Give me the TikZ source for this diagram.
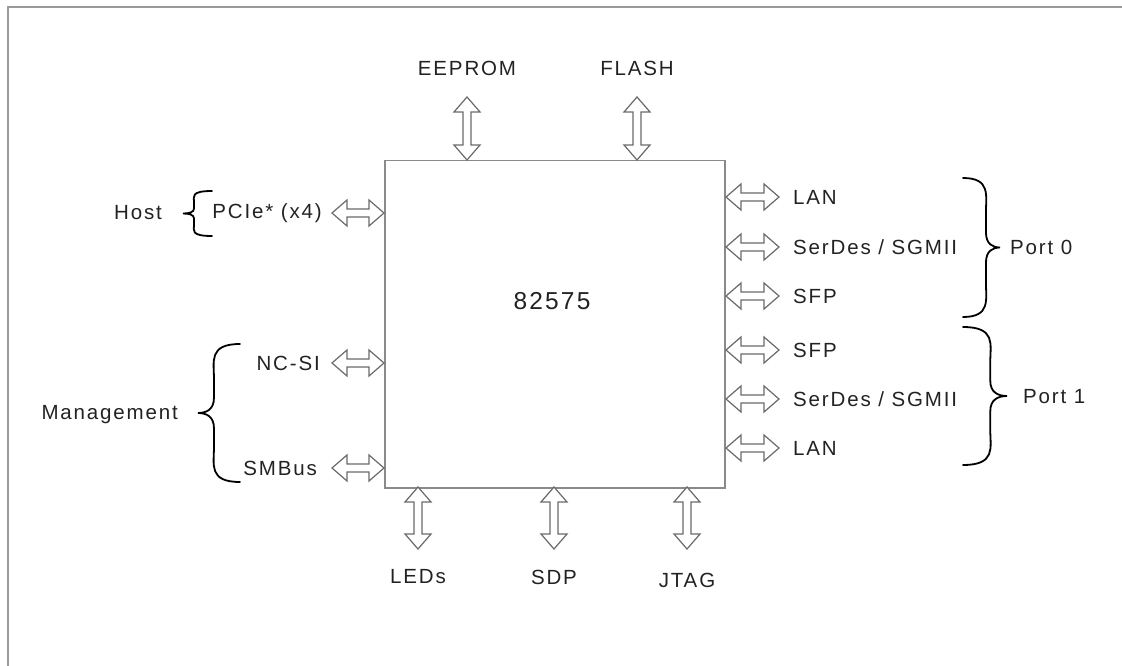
\documentclass[tikz,border=0pt]{standalone}
\usepackage{fontspec}
\setmainfont{Liberation Sans}[LetterSpace=9]
\definecolor{framegray}{HTML}{9A9A9A}
\definecolor{boxgray}{HTML}{8A8A8A}
\definecolor{arrgray}{HTML}{6A6A6A}
\definecolor{txt}{HTML}{222222}
\tikzset{
  lbl/.style={font=\fontsize{20.5}{22}\selectfont, text=txt, inner sep=0pt},
  arrowline/.style={draw=arrgray, line width=1.2pt, fill=white, line join=miter},
  bracestyle/.style={draw=black, line width=1.8pt, line cap=round},
  harrow/.pic={\path[arrowline] (0,0) -- (15,-13) -- (15,-4) -- (#1-15,-4) -- (#1-15,-13) -- (#1,0) -- (#1-15,13) -- (#1-15,4) -- (15,4) -- (15,13) -- cycle;},
  varrow/.pic={\path[arrowline] (0,0) -- (-13,15) -- (-4,15) -- (-4,#1-15) -- (-13,#1-15) -- (0,#1) -- (13,#1-15) -- (4,#1-15) -- (4,15) -- (13,15) -- cycle;},
}
\newcommand{\bracepath}{(0,0) .. controls (0.75,0) and (0.62,0.25) .. (0.62,0.5) -- (0.62,0.78) .. controls (0.62,0.95) and (0.8,1) .. (1,1) .. controls (0.8,1) and (0.62,1.05) .. (0.62,1.22) -- (0.62,1.5) .. controls (0.62,1.75) and (0.75,2) .. (0,2)}
\begin{document}
\begin{tikzpicture}[x=1pt,y=-1pt]
\useasboundingbox (0,0) rectangle (1122,666);
% outer frame (top and left only)
\draw[framegray, line width=2pt] (8,666) -- (8,7) -- (1122,7);
% chip
\node[draw=boxgray, line width=1.5pt, minimum width=340pt, minimum height=327pt, inner sep=0pt, anchor=north west] (chip) at (384,160) {};
\node[font=\fontsize{24.5}{26}\selectfont, text=txt, inner sep=0pt] (name) at (552,301) {82575};
% top
\node[lbl] (eeprom) at (467,68) {EEPROM};
\node[lbl] (flash) at (637,68) {FLASH};
\pic at (467,97) {varrow=63};
\pic at (637,97) {varrow=63};
% bottom
\node[lbl] (leds) at (418,577) {LEDs};
\node[lbl] (sdp) at (554,577) {SDP};
\node[lbl] (jtag) at (687,580) {JTAG};
\pic at (418,487) {varrow=62};
\pic at (554,487) {varrow=62};
\pic at (687,487) {varrow=62};
% left
\node[lbl, anchor=east] (pcie) at (322,213) {PCIe* (x4)};
\node[lbl] (host) at (138,213) {Host};
\node[lbl, anchor=east] (ncsi) at (320,363) {NC-SI};
\node[lbl, anchor=east] (smbus) at (317,468) {SMBus};
\node[lbl, anchor=east] (mgmt) at (178,415) {Management};
\pic at (332,213) {harrow=52};
\pic at (332,363) {harrow=52};
\pic at (332,468) {harrow=52};
\draw[bracestyle, shift={(212,191)}, xscale=-29, yscale=22.5] \bracepath;
\draw[bracestyle, shift={(240,344)}, xscale=-42, yscale=69] \bracepath;
% right
\foreach \yy/\nm/\tx in {197/lan0/LAN, 247/serdes0/{SerDes / SGMII}, 296/sfp0/SFP, 350/sfp1/SFP, 399/serdes1/{SerDes / SGMII}, 448/lan1/LAN}{
  \pic at (726,\yy) {harrow=53};
  \node[lbl, anchor=west] (\nm) at (793,\yy) {\tx};
}
\draw[bracestyle, shift={(963,178)}, xscale=37, yscale=69.5] \bracepath;
\draw[bracestyle, shift={(963,327)}, xscale=44, yscale=69] \bracepath;
\node[lbl, anchor=west] (port0) at (1010,247) {Port 0};
\node[lbl, anchor=west] (port1) at (1023,397) {Port 1};
\end{tikzpicture}
\end{document}
